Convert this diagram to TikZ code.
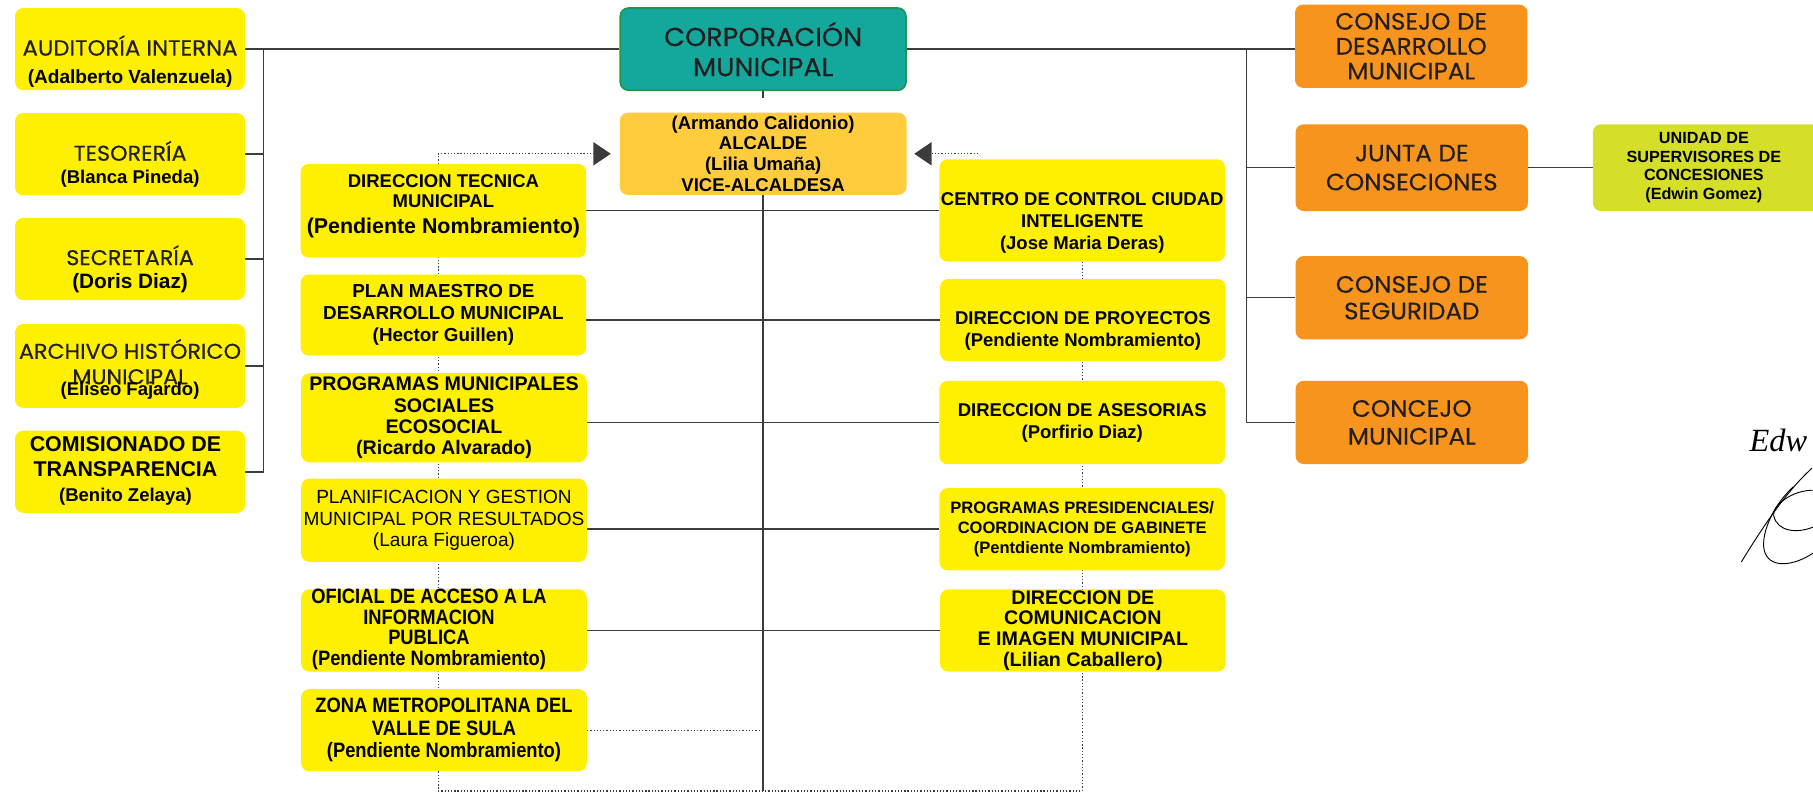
\documentclass[tikz,border=0pt]{standalone}
\usepackage{fontspec}
\setmainfont{Liberation Sans}
\newfontfamily\gotham[FakeStretch=1.04,FakeBold=0.4]{Poppins}
\newfontfamily\estrecha[FakeStretch=0.88]{Liberation Sans}
\newfontfamily\firmafont{Liberation Serif}
\usepackage{xcolor}
\usepackage{tikz}
\usetikzlibrary{positioning}
\usetikzlibrary{arrows.meta,backgrounds}

\definecolor{amarillo}{RGB}{255,240,0}
\definecolor{ambar}{RGB}{255,204,61}
\definecolor{turquesa}{RGB}{20,168,156}
\definecolor{verdeborde}{RGB}{30,150,80}
\definecolor{naranja}{RGB}{247,148,30}
\definecolor{lima}{RGB}{214,223,40}
\definecolor{linea}{RGB}{60,60,60}
\definecolor{txtgris}{RGB}{35,31,32}

\newcommand{\titg}[2][18.5]{{\gotham\mdseries\fontsize{#1}{#1}\selectfont\color{txtgris}#2}}
\newcommand{\alto}[1]{\rule{0pt}{#1pt}}
\newcommand{\hondo}[1]{\rule[-#1pt]{0pt}{#1pt}}

\begin{document}
\begin{tikzpicture}[
          x=1pt,y=-1pt,
          caja/.style={rounded corners=7pt,inner sep=0pt,align=center,text=black},
          cajaizq/.style={caja,fill=amarillo,minimum width=199pt,minimum height=71pt},
          cajamed/.style={caja,fill=amarillo,minimum width=247pt,minimum height=71pt},
          cajasup/.style={caja,fill=turquesa,draw=verdeborde,line width=1.5pt,
            minimum width=247pt,minimum height=71pt,text=txtgris,
            font=\gotham\fontsize{22.5}{26}\selectfont},
          cajaalc/.style={caja,fill=ambar,minimum width=248pt,minimum height=71pt,
            font=\fontsize{16}{18}\selectfont\bfseries},
          cajanar/.style={caja,fill=naranja,minimum width=201pt,minimum height=72pt,
            text=txtgris},
          cajalima/.style={caja,fill=lima,minimum width=222pt,minimum height=75pt,
            font=\fontsize{14}{16.3}\selectfont\bfseries},
          conector/.style={draw=linea,line width=1.3pt},
          punteado/.style={draw=linea,line width=1.1pt,dash pattern=on 1.1pt off 1.7pt},
          flecha/.style={-{Triangle[length=15pt,width=20pt]}},
          firma/.style={draw=black,line width=0.8pt}
          ]

          \useasboundingbox (0,0) rectangle (1568,686);

          \node[cajaizq,font=\fontsize{16.5}{24}\selectfont\bfseries] (audit) at (112.5,42.5)
            {\alto{40}\titg[19]{AUDITORÍA INTERNA}\\(Adalberto Valenzuela)\hondo{4.8}};
          \node[cajaizq,font=\fontsize{16}{20}\selectfont\bfseries] (teso) at (112.5,133.3)
            {\alto{40}\titg{TESORERÍA}\\(Blanca Pineda)\hondo{8.6}};
          \node[cajaizq,font=\fontsize{18}{20}\selectfont\bfseries] (secre) at (112.5,224)
            {\alto{40}\titg{SECRETARÍA}\\(Doris Diaz)\hondo{9.4}};
          \node[cajaizq,font=\fontsize{16}{22}\selectfont\bfseries] (archivo) at (112.5,316.5)
            {\alto{30}\titg{ARCHIVO HISTÓRICO}\\\titg{MUNICIPAL}\\[-12.6pt](Eliseo Fajardo)\hondo{11}};
          \node[cajaizq,font=\fontsize{18.5}{21.5}\selectfont\bfseries] (comis) at (112.5,408)
            {\begin{tabular}{@{}c@{}}COMISIONADO DE\\TRANSPARENCIA\\{\fontsize{16}{16}\selectfont(Benito Zelaya)}\end{tabular}\hspace*{8pt}};

          \node[cajasup] (corp) at (660,42.5) {CORPORACIÓN\\MUNICIPAL};
          \node[cajaalc] (alcalde) at (660,133)
            {(Armando Calidonio)\\ALCALDE\\(Lilia Umaña)\\VICE-ALCALDESA};

          \node[cajamed,minimum height=72pt,font=\fontsize{16}{18}\selectfont\bfseries] (dtec) at (383.5,182.3)
            {\alto{20}DIRECCION TECNICA\\MUNICIPAL\\[4pt]{\fontsize{18.5}{18.5}\selectfont(Pendiente Nombramiento)}\hondo{21.1}};
          \node[cajamed,minimum height=70pt,font=\fontsize{16.3}{19}\selectfont\bfseries] (plan) at (383.5,272.5)
            {PLAN MAESTRO DE\\DESARROLLO MUNICIPAL\\(Hector Guillen)};
          \node[cajamed,minimum height=77pt,font=\fontsize{17}{18.3}\selectfont\bfseries] (progm) at (384,361.3)
            {PROGRAMAS MUNICIPALES\\SOCIALES\\ECOSOCIAL\\(Ricardo Alvarado)};
          \node[cajamed,minimum height=72pt,font=\fontsize{16.5}{18.5}\selectfont] (planif) at (384,450)
            {PLANIFICACION Y GESTION\\MUNICIPAL POR RESULTADOS\\(Laura Figueroa)};
          \node[cajamed,font=\estrecha\fontsize{18}{17}\selectfont\bfseries] (oficial) at (384,545.3)
            {\begin{tabular}{@{}c@{}}OFICIAL DE ACCESO A LA\\INFORMACION\\PUBLICA\\(Pendiente Nombramiento)\end{tabular}\hspace*{26pt}};
          \node[cajamed,font=\estrecha\fontsize{18}{19.5}\selectfont\bfseries] (zona) at (384,631.5)
            {ZONA METROPOLITANA DEL\\VALLE DE SULA\\(Pendiente Nombramiento)};

          \node[cajamed,minimum height=72pt,font=\fontsize{16}{19}\selectfont\bfseries] (centro) at (936,182)
            {\alto{40}CENTRO DE CONTROL CIUDAD\\INTELIGENTE\\(Jose Maria Deras)\hondo{10.5}};
          \node[cajamed,font=\fontsize{16}{19}\selectfont\bfseries] (proy) at (936.5,276.8)
            {\alto{35}DIRECCION DE PROYECTOS\\(Pendiente Nombramiento)\hondo{8.1}};
          \node[cajamed,minimum height=72pt,font=\fontsize{16}{19}\selectfont\bfseries] (ases) at (936,365.5)
            {DIRECCION DE ASESORIAS\\(Porfirio Diaz)};
          \node[cajamed,font=\fontsize{14.3}{17}\selectfont\bfseries] (presid) at (936,457.7)
            {PROGRAMAS PRESIDENCIALES/\\COORDINACION DE GABINETE\\(Pentdiente Nombramiento)};
          \node[cajamed,font=\fontsize{17}{18}\selectfont\bfseries] (comunic) at (936.5,545.3)
            {DIRECCION DE\\COMUNICACION\\E IMAGEN MUNICIPAL\\(Lilian Caballero)};

          \node[cajanar,font=\gotham\fontsize{20.5}{21.5}\selectfont] (cdes) at (1220.5,40)
            {CONSEJO DE\\DESARROLLO\\MUNICIPAL};
          \node[cajanar,minimum height=75pt,font=\gotham\fontsize{20.5}{25}\selectfont] (junta) at (1221,145)
            {JUNTA DE\\CONSECIONES};
          \node[cajanar,font=\gotham\fontsize{20.5}{23}\selectfont] (segur) at (1221,257.5)
            {CONSEJO DE\\SEGURIDAD};
          \node[cajanar,font=\gotham\fontsize{20.5}{24}\selectfont] (concejo) at (1221,365.3)
            {CONCEJO\\MUNICIPAL};
          \node[cajalima] (unidad) at (1488.6,145)
            {\begin{tabular}{@{}c@{}}UNIDAD DE\\SUPERVISORES DE\\CONCESIONES\\(Edwin Gomez)\end{tabular}\hspace*{30pt}};

          \node[anchor=west,inner sep=0pt,font=\firmafont\itshape\fontsize{28}{28}\selectfont] (firmatxt) at (1513,381) {Edw};
          \draw[firma] (1506,486) .. controls (1525,455) and (1545,425) .. (1567,405);
          \draw[firma] (1551,421) .. controls (1530,440) and (1520,470) .. (1528,481)
            .. controls (1535,492) and (1555,488) .. (1570,477);
          \draw[firma] (1570,424) .. controls (1550,423) and (1532,438) .. (1534,446)
            .. controls (1537,460) and (1555,462) .. (1570,455);

          \begin{pgfonlayer}{background}
          \coordinate (cizq) at (228,0);
          \coordinate (cder) at (1078,0);
          \coordinate (pie) at (660.5,684);
          \coordinate (esqi) at (379,684);
          \coordinate (dfin) at (846,133);

          \draw[conector] (audit.east) -- (corp.west);
          \draw[conector] (audit.east -| cizq) |- (comis.east);
          \foreach \n in {teso,secre,archivo}
            \draw[conector] (\n.east) -- (\n.east -| cizq);

          \draw[conector] (corp.east) -- (corp.east -| cdes.west);
          \draw[conector] (corp.east -| cder) |- (concejo.west);
          \foreach \n in {junta,segur}
            \draw[conector] (\n.west) -- (\n.west -| cder);
          \draw[conector] (junta.east) -- (unidad.west);

          \draw[conector] (corp.south) -- ++(0,6);
          \draw[conector] (alcalde.south) -- (alcalde.south |- pie);
          \foreach \a/\b in {dtec/centro,plan/proy,progm/ases,planif/presid,oficial/comunic}
            \draw[conector] (\b.west) -- (\b.west -| \a.east);

          \draw[punteado] (zona.east) -- (zona.east -| pie);
          \draw[punteado,flecha,shorten >=7.6pt] (centro.south) |- (esqi) |- (alcalde.west);
          \draw[punteado,flecha,shorten >=6.5pt] (dfin) -- (alcalde.east);
          \end{pgfonlayer}
        \end{tikzpicture}
\end{document}
